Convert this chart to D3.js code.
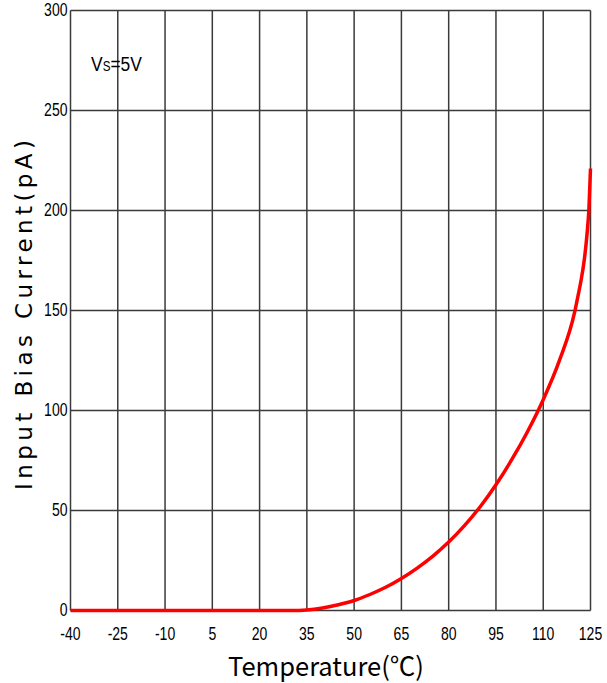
<!DOCTYPE html>
<html>
<head>
<meta charset="utf-8">
<script src="https://cdn.jsdelivr.net/npm/d3@7"></script>
<style>
  body { margin: 0; background: #fff; }
  svg { display: block; }
  .tick-label { font-family: "Liberation Sans", Arial, sans-serif; font-size: 18px; fill: #000; }
</style>
</head>
<body>
<div id="chart"></div>
<script>
// x ticks (temperature, °C) and y ticks (pA)
const xTicks = [-40, -25, -10, 5, 20, 35, 50, 65, 80, 95, 110, 125];
const yTicks = [0, 50, 100, 150, 200, 250, 300];

// curve
const temps = [-40, -20, 0, 20, 30, 35, 40, 45, 50, 55, 60, 65, 70, 75, 80, 85, 90, 95, 100, 105, 110, 115, 120, 121, 122, 123, 124, 124.5, 125];
const biasPA = [0, 0, 0, 0, 0, 0.3, 1.3, 2.9, 5, 8, 11.6, 16, 21.2, 27.2, 34.2, 42.4, 51.9, 62.9, 75.4, 89.4, 105.4, 124.4, 149.4, 157, 165, 175, 190, 201, 221];

const width = 607, height = 683;
const margin = { top: 10.5, right: 16.5, bottom: 72.5, left: 70.5 };
const narrow = 0.78;

const svg = d3.select("#chart").append("svg")
  .attr("width", width)
  .attr("height", height);

const x = d3.scaleLinear()
  .domain([-40, 125])
  .range([margin.left, width - margin.right]);

const y = d3.scaleLinear()
  .domain([0, 300])
  .range([height - margin.bottom, margin.top]);

// grid
const grid = svg.append("g").attr("stroke", "#3a3a3a").attr("stroke-width", 1.5);
grid.selectAll("line.v")
  .data(xTicks)
  .join("line")
  .attr("class", "v")
  .attr("x1", d => x(d)).attr("x2", d => x(d))
  .attr("y1", y(0)).attr("y2", y(300));
grid.selectAll("line.h")
  .data(yTicks)
  .join("line")
  .attr("class", "h")
  .attr("x1", x(-40)).attr("x2", x(125))
  .attr("y1", d => y(d)).attr("y2", d => y(d));

// tick labels (narrow face, squeezed horizontally)
svg.append("g").selectAll("text")
  .data(xTicks)
  .join("text")
  .attr("class", "tick-label")
  .attr("transform", d => `translate(${x(d)},${y(0) + 29}) scale(${narrow},1)`)
  .attr("text-anchor", "middle")
  .text(d => d);

svg.append("g").selectAll("text")
  .data(yTicks)
  .join("text")
  .attr("class", "tick-label")
  .attr("transform", d => `translate(${x(-40) - 3},${y(d) + 5}) scale(${narrow},1)`)
  .attr("text-anchor", "end")
  .text(d => d);

// curve
const line = d3.line()
  .x((d, i) => x(temps[i]))
  .y(d => y(d))
  .curve(d3.curveMonotoneX);

svg.append("path")
  .datum(biasPA)
  .attr("fill", "none")
  .attr("stroke", "#ff0000")
  .attr("stroke-width", 3.5)
  .attr("d", line);

// annotation
const note = svg.append("text")
  .attr("transform", `translate(91,71) scale(${narrow + 0.05},1)`)
  .attr("font-family", "Liberation Sans, sans-serif")
  .attr("font-size", 21)
  .attr("fill", "#000");
note.append("tspan").text("V");
note.append("tspan").attr("font-size", 14).text("S");
note.append("tspan").text("=5V");

// axis titles
svg.append("text")
  .attr("x", 326)
  .attr("y", 676)
  .attr("text-anchor", "middle")
  .attr("font-family", "Noto Sans CJK SC, DejaVu Sans, sans-serif")
  .attr("font-size", 26)
  .attr("textLength", 196)
  .attr("lengthAdjust", "spacingAndGlyphs")
  .text("Temperature(℃)");

svg.append("text")
  .attr("transform", `translate(32, ${(140 + 490) / 2}) rotate(-90)`)
  .attr("text-anchor", "middle")
  .attr("font-family", "DejaVu Sans, sans-serif")
  .attr("font-size", 23)
  .attr("textLength", 350)
  .attr("lengthAdjust", "spacing")
  .text("Input Bias Current(pA)");
</script>
</body>
</html>
